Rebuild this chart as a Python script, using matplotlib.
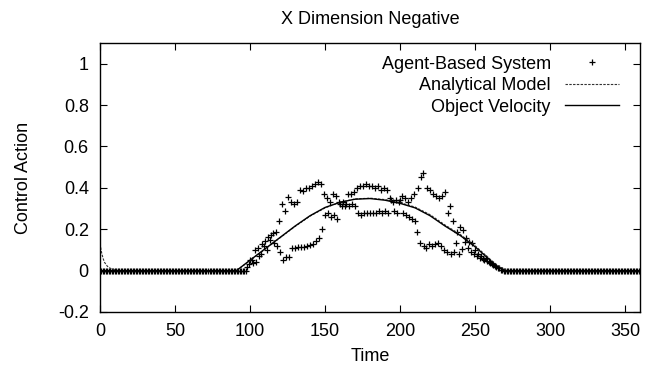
import numpy as np
import matplotlib
matplotlib.use("Agg")
import matplotlib.pyplot as plt
from matplotlib.ticker import FormatStrFormatter

plt.rcParams['font.family'] = ['Liberation Sans', 'DejaVu Sans']

# object velocity (solid)
vel_t = [0, 91, 100, 110, 120, 130, 140, 150, 160, 170, 180, 190, 200,
         210, 220, 230, 240, 250, 260, 265, 270, 360]
vel_y = [0, 0, 0.05, 0.105, 0.16, 0.215, 0.265, 0.305, 0.33, 0.345, 0.348,
         0.34, 0.325, 0.303, 0.265, 0.215, 0.17, 0.115, 0.05, 0.02, 0, 0]

# analytical model (dashed)
ana_t = [0, 1, 2, 3, 5, 8, 12, 91, 100, 110, 120, 130, 140, 150, 160, 170,
         180, 190, 200, 210, 220, 230, 240, 250, 260, 265, 271, 360]
ana_y = [0.13, 0.09, 0.06, 0.04, 0.02, 0.006, 0, 0, 0.048, 0.103, 0.158,
         0.213, 0.263, 0.303, 0.33, 0.346, 0.35, 0.343, 0.328, 0.307,
         0.27, 0.22, 0.175, 0.12, 0.055, 0.025, 0, 0]

# agent-based system (+ markers), flat parts then the hump
flat_lo_t = np.arange(0, 98)
flat_lo_y = np.zeros(len(flat_lo_t))
hump_t = [98, 99, 100, 101, 102, 103, 104, 105, 106, 107, 108, 109, 110,
          111, 112, 113, 114, 115, 116, 117, 118, 119, 120, 121, 122, 123,
          124, 125, 126, 127, 128, 129, 130, 131, 132, 133, 134, 135, 136,
          137, 138, 139, 140, 141, 142, 143, 144, 145, 146, 147, 148, 149,
          150, 151, 152, 153, 154, 155, 156, 157, 158, 159, 160, 161, 162,
          163, 164, 165, 166, 167, 168, 169, 170, 171, 172, 173, 174, 175,
          176, 177, 178, 179, 180, 181, 182, 183, 184, 185, 186, 187, 188,
          189, 190, 191, 192, 193, 194, 195, 196, 197, 198, 199, 200, 201,
          202, 203, 204, 205, 206, 207, 208, 209, 210, 211, 212, 213, 214,
          215, 216, 217, 218, 219, 220, 221, 222, 223, 224, 225, 226, 227,
          228, 229, 230, 231, 232, 233, 234, 235, 236, 237, 238, 239, 240,
          241, 242, 243, 244, 245, 246, 247, 248, 249, 250, 251, 252, 253,
          254, 255, 256, 257, 258, 259, 260, 261, 262, 263, 264, 265, 266,
          267, 268, 269]
hump_y = [0.015, 0.03, 0.05, 0.05, 0.035, 0.10, 0.04, 0.11, 0.07, 0.08,
          0.13, 0.12, 0.145, 0.10, 0.16, 0.15, 0.17, 0.18, 0.135, 0.185,
          0.12, 0.24, 0.09, 0.32, 0.05, 0.29, 0.065, 0.355, 0.065, 0.33,
          0.11, 0.32, 0.11, 0.33, 0.115, 0.39, 0.115, 0.385, 0.115, 0.40,
          0.12, 0.40, 0.125, 0.41, 0.13, 0.42, 0.145, 0.43, 0.155, 0.42,
          0.20, 0.37, 0.27, 0.35, 0.28, 0.33, 0.26, 0.37, 0.27, 0.36,
          0.25, 0.33, 0.32, 0.31, 0.33, 0.31, 0.32, 0.37, 0.31, 0.37,
          0.32, 0.38, 0.31, 0.40, 0.28, 0.41, 0.27, 0.41, 0.28, 0.42,
          0.28, 0.41, 0.28, 0.41, 0.28, 0.40, 0.28, 0.41, 0.29, 0.39,
          0.28, 0.40, 0.29, 0.39, 0.28, 0.35, 0.34, 0.33, 0.29, 0.34,
          0.28, 0.33, 0.34, 0.36, 0.28, 0.35, 0.27, 0.33, 0.26, 0.35,
          0.25, 0.37, 0.24, 0.185, 0.40, 0.135, 0.45, 0.47, 0.12, 0.11,
          0.40, 0.13, 0.39, 0.12, 0.37, 0.13, 0.36, 0.135, 0.35, 0.12,
          0.36, 0.10, 0.38, 0.09, 0.28, 0.31, 0.08, 0.24, 0.09, 0.135,
          0.185, 0.08, 0.21, 0.105, 0.195, 0.14, 0.155, 0.11, 0.14, 0.09,
          0.135, 0.08, 0.10, 0.07, 0.08, 0.06, 0.07, 0.055, 0.05, 0.06,
          0.045, 0.04, 0.035, 0.03, 0.025, 0.02, 0.015, 0.01, 0.01, 0.005,
          0.005, 0.0]
flat_hi_t = np.arange(270, 361)
flat_hi_y = np.zeros(len(flat_hi_t))

agent_t = np.concatenate([flat_lo_t, hump_t, flat_hi_t])
agent_y = np.concatenate([flat_lo_y, hump_y, flat_hi_y])

fig = plt.figure(figsize=(6.62, 3.74), dpi=100)
ax = fig.add_axes([0.151, 0.166, 0.816, 0.719])

ax.plot(agent_t, agent_y, linestyle='none', marker='+', color='black',
        markersize=5, markeredgewidth=0.9, label='Agent-Based System')
ax.plot(ana_t, ana_y, color='#333333', linewidth=0.8, dashes=(2.2, 1.2),
        label='Analytical Model')
ax.plot(vel_t, vel_y, color='black', linewidth=1.0, label='Object Velocity')

ax.set_xlim(0, 360)
ax.set_ylim(-0.2, 1.1)
ax.set_xticks(np.arange(0, 351, 50))
ax.set_yticks(np.arange(-0.2, 1.01, 0.2))
ax.yaxis.set_major_formatter(FormatStrFormatter('%g'))
ax.tick_params(direction='in', length=5, width=0.8, top=True, right=True,
               labelsize=13, pad=8)
for s in ax.spines.values():
    s.set_linewidth(1.0)

ax.set_title('X Dimension Negative', fontsize=13, pad=14)
ax.set_xlabel('Time', fontsize=13, labelpad=6)
ax.set_ylabel('Control Action', fontsize=13, labelpad=19)

leg = ax.legend(loc='upper right', frameon=False, markerfirst=False,
                fontsize=13, handlelength=3.0, handletextpad=0.8,
                labelspacing=0.25, borderaxespad=0.3, bbox_to_anchor=(0.985, 1.0))

fig.savefig('out.png', dpi=100)
